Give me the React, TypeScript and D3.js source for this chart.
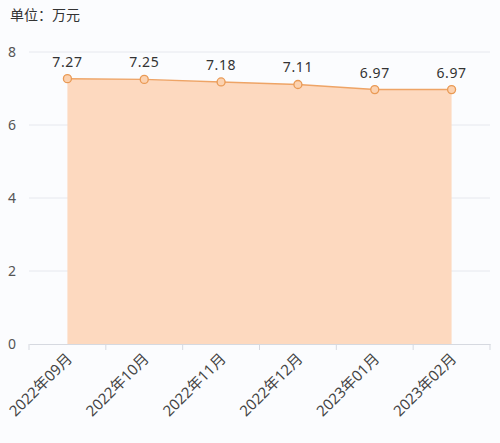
import React, { useRef, useEffect } from 'react';
import * as d3 from 'd3';

const months = ['2022年09月', '2022年10月', '2022年11月', '2022年12月', '2023年01月', '2023年02月'];
const prices = [7.27, 7.25, 7.18, 7.11, 6.97, 6.97];
const yTicks = [0, 2, 4, 6, 8];

const W = 500;
const H = 443;
const FONT = '"Noto Sans", "Noto Sans CJK SC", sans-serif';

export default function App() {
  const svgRef = useRef<SVGSVGElement | null>(null);

  useEffect(() => {
    if (!svgRef.current) return;
    const svg = d3.select(svgRef.current);
    svg.selectAll('*').remove();

    const margin = { top: 52, right: 10, bottom: 99, left: 29 };

    svg.append('rect').attr('width', W).attr('height', H).attr('fill', '#fbfcfe');

    const x = d3
      .scaleBand<string>()
      .domain(months)
      .range([margin.left, W - margin.right]);

    const y = d3
      .scaleLinear()
      .domain([0, 8])
      .range([H - margin.bottom, margin.top]);

    const cx = (m: string) => (x(m) as number) + x.bandwidth() / 2;

    // unit label
    svg
      .append('text')
      .attr('x', 10)
      .attr('y', 20)
      .attr('font-family', FONT)
      .attr('font-size', 14)
      .attr('fill', '#333')
      .text('单位：万元');

    // grid lines
    svg
      .append('g')
      .selectAll('line')
      .data(yTicks.filter(t => t > 0))
      .join('line')
      .attr('x1', margin.left)
      .attr('x2', W - margin.right)
      .attr('y1', d => y(d))
      .attr('y2', d => y(d))
      .attr('stroke', '#e6e8ee')
      .attr('stroke-width', 1);

    // y labels
    svg
      .append('g')
      .selectAll('text')
      .data(yTicks)
      .join('text')
      .attr('x', 12)
      .attr('y', d => y(d))
      .attr('dy', '0.35em')
      .attr('text-anchor', 'middle')
      .attr('font-family', FONT)
      .attr('font-size', 14)
      .attr('fill', '#555')
      .text(d => d);

    const pts = months.map((m, i) => ({ m, v: prices[i] }));

    // area
    const area = d3
      .area<{ m: string; v: number }>()
      .x(d => cx(d.m))
      .y0(y(0))
      .y1(d => y(d.v));
    svg.append('path').datum(pts).attr('d', area).attr('fill', '#fdd9bf');

    // x axis
    const xAxis = svg
      .append('g')
      .attr('transform', `translate(0,${y(0)})`)
      .call(
        d3
          .axisBottom(x)
          .tickSize(0)
          .tickFormat(() => '')
      );
    xAxis.select('.domain').attr('stroke', '#d6d9e0');
    xAxis.selectAll('.tick').remove();

    const edges = [...months.map(m => x(m) as number), W - margin.right];
    svg
      .append('g')
      .selectAll('line')
      .data(edges)
      .join('line')
      .attr('x1', d => d)
      .attr('x2', d => d)
      .attr('y1', y(0))
      .attr('y2', y(0) + 6)
      .attr('stroke', '#d6d9e0');

    // x labels rotated
    svg
      .append('g')
      .selectAll('text')
      .data(months)
      .join('text')
      .attr('transform', d => `translate(${cx(d) + 2},${y(0) + 12}) rotate(-45)`)
      .attr('text-anchor', 'end')
      .attr('dy', '0.35em')
      .attr('font-family', FONT)
      .attr('font-size', 15)
      .attr('fill', '#444')
      .text(d => d);

    // line
    const line = d3
      .line<{ m: string; v: number }>()
      .x(d => cx(d.m))
      .y(d => y(d.v));
    svg
      .append('path')
      .datum(pts)
      .attr('d', line)
      .attr('fill', 'none')
      .attr('stroke', '#eea466')
      .attr('stroke-width', 1.5);

    // points
    svg
      .append('g')
      .selectAll('circle')
      .data(pts)
      .join('circle')
      .attr('cx', d => cx(d.m))
      .attr('cy', d => y(d.v))
      .attr('r', 4)
      .attr('fill', '#fcd2b0')
      .attr('stroke', '#e99a55')
      .attr('stroke-width', 1.3);

    // value labels
    svg
      .append('g')
      .selectAll('text')
      .data(pts)
      .join('text')
      .attr('x', d => cx(d.m))
      .attr('y', d => y(d.v) - 12)
      .attr('text-anchor', 'middle')
      .attr('font-family', FONT)
      .attr('font-size', 14)
      .attr('letter-spacing', 0.6)
      .attr('fill', '#333')
      .text(d => d.v.toFixed(2));
  }, []);

  return (
    <div style={{ position: 'absolute', left: 0, top: 0 }}>
      <svg ref={svgRef} width={W} height={H} style={{ display: 'block' }}></svg>
    </div>
  );
}
